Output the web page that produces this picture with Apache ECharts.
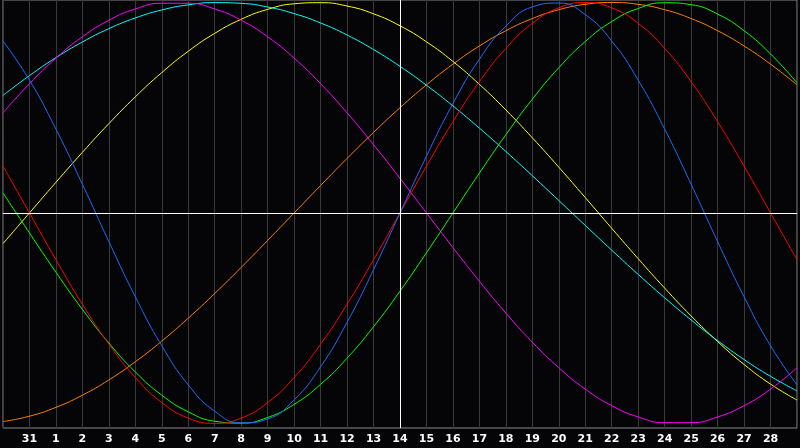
<!DOCTYPE html>
<html>
<head>
<meta charset="utf-8">
<script src="https://cdn.jsdelivr.net/npm/echarts@6/dist/echarts.min.js"></script>
<style>
html,body{margin:0;padding:0;background:#050508;}
#chart{width:800px;height:448px;}
</style>
</head>
<body>
<div id="chart"></div>
<script>
const dayLabels = ['30','31','1','2','3','4','5','6','7','8','9','10','11','12','13','14','15','16','17','18','19','20','21','22','23','24','25','26','27','28','29'];

const red = [0.2225,0,-0.2225,-0.4339,-0.6235,-0.7818,-0.9010,-0.9749,-1,-0.9749,-0.9010,-0.7818,-0.6235,-0.4339,-0.2225,0,0.2225,0.4339,0.6235,0.7818,0.9010,0.9749,1,0.9749,0.9010,0.7818,0.6235,0.4339,0.2225,0,-0.2225];
const green = [0.0950,-0.0950,-0.2817,-0.4582,-0.6182,-0.7557,-0.8660,-0.9450,-0.9898,-0.9989,-0.9718,-0.9096,-0.8146,-0.6901,-0.5406,-0.3717,-0.1893,0,0.1893,0.3717,0.5406,0.6901,0.8146,0.9096,0.9718,0.9989,0.9898,0.9450,0.8660,0.7557,0.6182];
const blue = [0.8170,0.6311,0.3984,0.1362,-0.1362,-0.3984,-0.6311,-0.8170,-0.9423,-0.9977,-0.9791,-0.8879,-0.7308,-0.5196,-0.2698,0,0.2698,0.5196,0.7308,0.8879,0.9791,0.9977,0.9423,0.8170,0.6311,0.3984,0.1362,-0.1362,-0.3984,-0.6311,-0.8170];
const magenta = [0.4759,0.6142,0.7357,0.8372,0.9158,0.9694,0.9966,0.9966,0.9694,0.9158,0.8372,0.7357,0.6142,0.4759,0.3247,0.1646,0,-0.1646,-0.3247,-0.4759,-0.6142,-0.7357,-0.8372,-0.9158,-0.9694,-0.9966,-0.9966,-0.9694,-0.9158,-0.8372,-0.7357];
const cyan = [0.5586,0.6527,0.7380,0.8125,0.8758,0.9267,0.9646,0.9890,0.9996,0.9961,0.9786,0.9473,0.9028,0.8457,0.7764,0.6966,0.6068,0.5086,0.4031,0.2921,0.1769,0.0592,-0.0592,-0.1769,-0.2921,-0.4031,-0.5086,-0.6068,-0.6966,-0.7764,-0.8457];
const yellow = [-0.1456,0,0.1456,0.2881,0.4245,0.5517,0.6672,0.7685,0.8535,0.9204,0.9675,0.9940,0.9993,0.9834,0.9464,0.8893,0.8133,0.7200,0.6111,0.4894,0.3572,0.2174,0.0730,-0.0730,-0.2174,-0.3572,-0.4894,-0.6111,-0.7200,-0.8133,-0.8893];
const orange = [-0.9914,-0.9659,-0.9239,-0.8660,-0.7934,-0.7071,-0.6088,-0.5,-0.3827,-0.2588,-0.1305,0,0.1305,0.2588,0.3827,0.5,0.6088,0.7071,0.7934,0.8660,0.9239,0.9659,0.9914,1,0.9914,0.9659,0.9239,0.8660,0.7934,0.7071,0.6088];

const seriesDefs = [
  {name:'orange', data:orange, color:'#ff8000'},
  {name:'yellow', data:yellow, color:'#ffff00'},
  {name:'cyan', data:cyan, color:'#00ffff'},
  {name:'magenta', data:magenta, color:'#ff00ff'},
  {name:'green', data:green, color:'#00ff00'},
  {name:'red', data:red, color:'#ff0000'},
  {name:'blue', data:blue, color:'#1a6cff'}
];

const chart = echarts.init(document.getElementById('chart'), null, {renderer:'canvas'});
const series = seriesDefs.map(s => ({
  name: s.name,
  type: 'line',
  data: s.data,
  smooth: true,
  showSymbol: false,
  symbol: 'none',
  lineStyle: {color: s.color, width: 1},
  itemStyle: {color: s.color},
  silent: true,
  animation: false
}));
series.push({
  type: 'line',
  data: [],
  silent: true,
  animation: false,
  markLine: {
    silent: true,
    symbol: 'none',
    label: {show: false},
    lineStyle: {color: '#ffffff', width: 1, type: 'solid'},
    data: [{xAxis: '14'}, {yAxis: 0}]
  }
});

chart.setOption({
  backgroundColor: '#050508',
  animation: false,
  grid: {left: 0, right: 1, top: 0, bottom: 20, show: true, borderColor: '#8a8a8a', borderWidth: 1, backgroundColor: '#050508'},
  xAxis: {
    type: 'category',
    data: dayLabels,
    boundaryGap: false,
    axisLine: {show: true, lineStyle: {color: '#8a8a8a', width: 1}},
    axisTick: {show: false},
    splitLine: {show: true, interval: 0, lineStyle: {color: '#3a3a3a', width: 1}},
    axisLabel: {
      interval: 0,
      color: '#ffffff',
      fontFamily: 'DejaVu Sans',
      fontWeight: 'bold',
      fontSize: 11,
      margin: 6,
      formatter: (v, i) => (i === 0 || i === dayLabels.length - 1) ? '' : v
    }
  },
  yAxis: {
    type: 'value',
    min: -1.022,
    max: 1.012,
    show: false,
    splitLine: {show: false}
  },
  series: series
});
</script>
</body>
</html>
